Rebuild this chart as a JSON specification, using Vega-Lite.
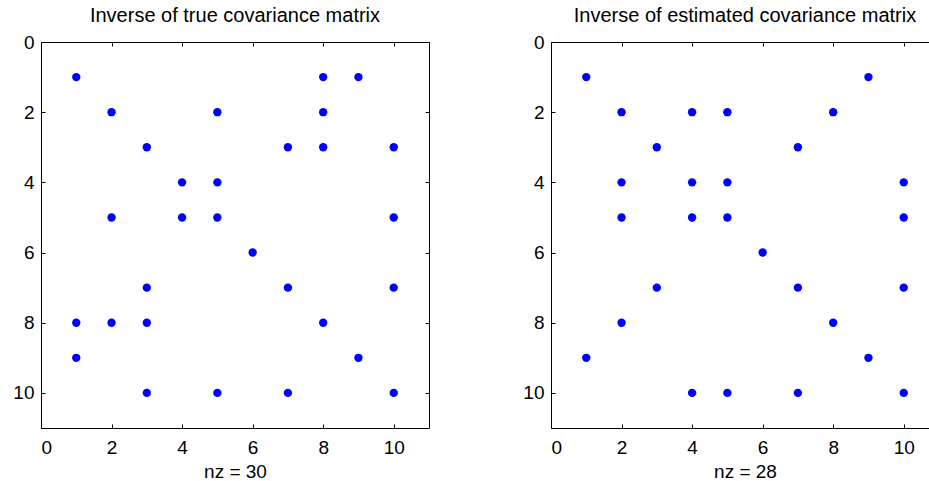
{
  "$schema": "https://vega.github.io/schema/vega-lite/v6.json",
  "padding": {"left": 12, "top": 5, "right": 0, "bottom": 0},
  "background": "white",
  "bounds": "flush",
  "spacing": 122,
  "config": {
    "font": "Liberation Sans",
    "view": {"stroke": "black", "strokeWidth": 1},
    "axis": {"grid": false, "domain": false, "tickSize": -4, "tickColor": "black", "tickWidth": 1, "labelColor": "black", "labelFontSize": 19, "labelFont": "Liberation Sans", "titleFont": "Liberation Sans", "titleFontSize": 19, "titleFontWeight": "normal", "titleColor": "black"},
    "title": {"fontSize": 20, "fontWeight": "normal", "font": "Liberation Sans", "color": "black", "offset": 7}
  },
  "datasets": {
    "truecov": [
      {"col": 1, "row": 1}, {"col": 8, "row": 1}, {"col": 9, "row": 1},
      {"col": 2, "row": 2}, {"col": 5, "row": 2}, {"col": 8, "row": 2},
      {"col": 3, "row": 3}, {"col": 7, "row": 3}, {"col": 8, "row": 3}, {"col": 10, "row": 3},
      {"col": 4, "row": 4}, {"col": 5, "row": 4},
      {"col": 2, "row": 5}, {"col": 4, "row": 5}, {"col": 5, "row": 5}, {"col": 10, "row": 5},
      {"col": 6, "row": 6},
      {"col": 3, "row": 7}, {"col": 7, "row": 7}, {"col": 10, "row": 7},
      {"col": 1, "row": 8}, {"col": 2, "row": 8}, {"col": 3, "row": 8}, {"col": 8, "row": 8},
      {"col": 1, "row": 9}, {"col": 9, "row": 9},
      {"col": 3, "row": 10}, {"col": 5, "row": 10}, {"col": 7, "row": 10}, {"col": 10, "row": 10}
    ],
    "estcov": [
      {"col": 1, "row": 1}, {"col": 9, "row": 1},
      {"col": 2, "row": 2}, {"col": 4, "row": 2}, {"col": 5, "row": 2}, {"col": 8, "row": 2},
      {"col": 3, "row": 3}, {"col": 7, "row": 3},
      {"col": 2, "row": 4}, {"col": 4, "row": 4}, {"col": 5, "row": 4}, {"col": 10, "row": 4},
      {"col": 2, "row": 5}, {"col": 4, "row": 5}, {"col": 5, "row": 5}, {"col": 10, "row": 5},
      {"col": 6, "row": 6},
      {"col": 3, "row": 7}, {"col": 7, "row": 7}, {"col": 10, "row": 7},
      {"col": 2, "row": 8}, {"col": 8, "row": 8},
      {"col": 1, "row": 9}, {"col": 9, "row": 9},
      {"col": 4, "row": 10}, {"col": 5, "row": 10}, {"col": 7, "row": 10}, {"col": 10, "row": 10}
    ]
  },
  "hconcat": [
    {
      "title": "Inverse of true covariance matrix",
      "width": 388,
      "height": 386,
      "data": {"name": "truecov"},
      "layer": [
        {
          "mark": {"type": "point", "filled": true, "color": "#0000ff", "size": 70, "opacity": 1},
          "encoding": {
            "x": {"field": "col", "type": "quantitative", "scale": {"domain": [0, 11], "nice": false}, "axis": {"orient": "bottom", "values": [0, 2, 4, 6, 8, 10], "title": "nz = 30", "labelPadding": 14, "titlePadding": 5}},
            "y": {"field": "row", "type": "quantitative", "scale": {"domain": [0, 11], "nice": false, "reverse": true}, "axis": {"orient": "left", "values": [0, 2, 4, 6, 8, 10], "title": null, "labelPadding": 11}}
          }
        },
        {
          "mark": {"type": "point", "filled": true, "color": "#0000ff", "size": 70, "opacity": 0},
          "encoding": {
            "x": {"field": "col", "type": "quantitative", "scale": {"domain": [0, 11], "nice": false}, "axis": {"orient": "top", "values": [0, 2, 4, 6, 8, 10], "title": null, "labels": false}},
            "y": {"field": "row", "type": "quantitative", "scale": {"domain": [0, 11], "nice": false, "reverse": true}, "axis": {"orient": "right", "values": [0, 2, 4, 6, 8, 10], "title": null, "labels": false}}
          }
        }
      ],
      "resolve": {"axis": {"x": "independent", "y": "independent"}}
    },
    {
      "title": "Inverse of estimated covariance matrix",
      "width": 388,
      "height": 386,
      "data": {"name": "estcov"},
      "layer": [
        {
          "mark": {"type": "point", "filled": true, "color": "#0000ff", "size": 70, "opacity": 1},
          "encoding": {
            "x": {"field": "col", "type": "quantitative", "scale": {"domain": [0, 11], "nice": false}, "axis": {"orient": "bottom", "values": [0, 2, 4, 6, 8, 10], "title": "nz = 28", "labelPadding": 14, "titlePadding": 5}},
            "y": {"field": "row", "type": "quantitative", "scale": {"domain": [0, 11], "nice": false, "reverse": true}, "axis": {"orient": "left", "values": [0, 2, 4, 6, 8, 10], "title": null, "labelPadding": 11}}
          }
        },
        {
          "mark": {"type": "point", "filled": true, "color": "#0000ff", "size": 70, "opacity": 0},
          "encoding": {
            "x": {"field": "col", "type": "quantitative", "scale": {"domain": [0, 11], "nice": false}, "axis": {"orient": "top", "values": [0, 2, 4, 6, 8, 10], "title": null, "labels": false}},
            "y": {"field": "row", "type": "quantitative", "scale": {"domain": [0, 11], "nice": false, "reverse": true}, "axis": {"orient": "right", "values": [0, 2, 4, 6, 8, 10], "title": null, "labels": false}}
          }
        }
      ],
      "resolve": {"axis": {"x": "independent", "y": "independent"}}
    }
  ]
}
